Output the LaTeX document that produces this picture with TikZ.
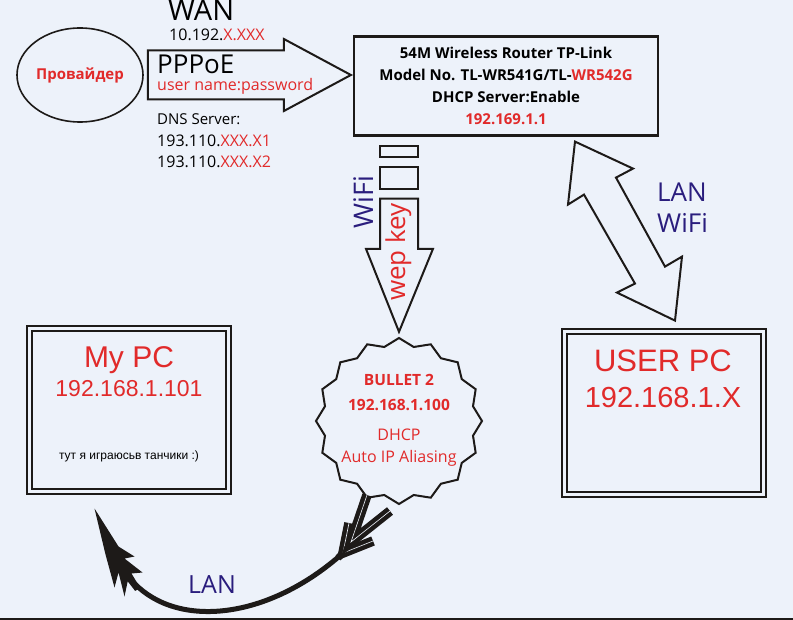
\documentclass[tikz,border=0pt]{standalone}
\usepackage{fontspec}
\setmainfont{Open Sans}
\newfontfamily\pcfont{Liberation Sans}
\usetikzlibrary{arrows.meta, positioning, calc, shapes.geometric}
\definecolor{paper}{HTML}{EDF2FA}
\definecolor{ink}{HTML}{1D1A18}
\definecolor{hot}{HTML}{E12A2A}
\definecolor{navy}{HTML}{2A1D7D}
\newcommand{\pxfont}[1]{\fontsize{#1}{#1}\selectfont}
\tikzset{
  pcbox/.style={draw=ink, line width=2, double=paper, double distance=3,
    minimum width=199, minimum height=163, inner sep=0},
  fatarrow/.style={draw=ink, line width=2, fill=paper, line join=miter},
  feather/.style={draw=ink, line width=4.5, double=paper, double distance=0.6, line join=miter},
  txt/.style={inner sep=0, anchor=base west},
  ctxt/.style={inner sep=0, anchor=base},
}

\begin{document}
\begin{tikzpicture}[x=1pt,y=-1pt]
\fill[paper] (0,0) rectangle (793,620);
\useasboundingbox (0,0) rectangle (793,620);
\draw[ink, line width=2] (0,618.5) -- (793,618.5);

% provider, router
\node[ellipse, draw=ink, line width=1.6, minimum width=126, minimum height=94, inner sep=0,
  text=hot, font=\bfseries\pxfont{15}] (prov) at (80,75) {Провайдер};
\node[draw=ink, line width=2.2, minimum width=304, minimum height=99, inner sep=0, align=center,
  font=\bfseries\fontsize{15}{22}\selectfont] (router) at (506,86)
  {54M Wireless Router TP-Link\\ Model No. TL-WR541G/TL-\textcolor{hot}{WR542G}\\
   DHCP Server:Enable\\ \textcolor{hot}{192.169.1.1}};

% WAN arrow
\coordinate (wan tail) at ($(prov.east)+(4,0)$);
\coordinate (wan tip) at ($(router.west |- prov.east)+(-2,0)$);
\draw[fatarrow] ($(wan tail)+(0,-24.5)$) -- ($(wan tip)+(-67,-24.5)$) -- ($(wan tip)+(-67,-36)$)
  -- (wan tip) -- ($(wan tip)+(-67,36)$) -- ($(wan tip)+(-67,24.5)$) -- ($(wan tail)+(0,24.5)$) -- cycle;
\node[txt, font=\pxfont{29}] (wan) at (168,21) {WAN};
\node[txt, font=\pxfont{16}] (wan ip) at (169,41) {10.192.\textcolor{hot}{X.XXX}};
\node[txt, font=\pxfont{26}] (pppoe) at (157,74) {PPPoE};
\node[txt, font=\pxfont{16}, text=hot] (login) at (157,91) {user name:password};
\node[txt, font=\pxfont{15}] (dns) at (157,125) {DNS Server:};
\node[txt, font=\pxfont{16}] (dns one) at (157,147) {193.110.\textcolor{hot}{XXX.X1}};
\node[txt, font=\pxfont{16}] (dns two) at (157,168) {193.110.\textcolor{hot}{XXX.X2}};

% bullet
\node[star, star points=16, star point ratio=1.1, draw=ink, line width=2, minimum size=166,
  inner sep=0] (bullet) at (399,421) {};
\node[ctxt, text=hot, font=\bfseries\pxfont{15.5}] (bullet name) at (399,385) {BULLET 2};
\node[ctxt, text=hot, font=\bfseries\pxfont{15.5}] (bullet ip) at (399,410) {192.168.1.100};
\node[ctxt, text=hot, font=\pxfont{16}] (bullet dhcp) at (399,440) {DHCP};
\node[ctxt, text=hot, font=\pxfont{16}] (bullet alias) at (399,462) {Auto IP Aliasing};

% wifi link
\coordinate (wifi top) at (bullet.north |- router.south);
\draw[ink, line width=2] ($(wifi top)+(-19,9)$) rectangle ($(wifi top)+(19,20)$);
\draw[ink, line width=2] ($(wifi top)+(-19,30)$) rectangle ($(wifi top)+(19,52)$);
\coordinate (wifi tip) at ($(bullet.north)+(0,-5)$);
\draw[fatarrow] ($(wifi top)+(-19,62)$) -- ($(wifi top)+(19,62)$) -- ($(wifi tip)+(19,-83)$)
  -- ($(wifi tip)+(34,-83)$) -- (wifi tip) -- ($(wifi tip)+(-33,-83)$) -- ($(wifi tip)+(-19,-83)$) -- cycle;
\node[ctxt, rotate=90, text=navy, font=\pxfont{27}] (wifi) at (373,202) {WiFi};
\node[ctxt, rotate=90, text=hot, font=\pxfont{26}] (wep) at (405,252) {wep key};

% computers
\node[pcbox] (mypc) at (129,410) {};
\node[ctxt, text=hot, font=\pcfont\pxfont{30}] (mypc name) at (129,368) {My PC};
\node[ctxt, text=hot, font=\pcfont\pxfont{23}] (mypc ip) at (129,397) {192.168.1.101};
\node[ctxt, font=\pcfont\pxfont{12}] (mypc note) at (129,459) {тут я играюсьв танчики :)};
\node[pcbox] (userpc) at (664,413) {};
\node[ctxt, text=hot, font=\pcfont\pxfont{31}] (userpc name) at (663,372) {USER PC};
\node[ctxt, text=hot, font=\pcfont\pxfont{29}] (userpc ip) at (663,407) {192.168.1.X};

% LAN / WiFi double arrow
\coordinate (lan a) at ($(router.south)+(69,5)$);
\draw[fatarrow, shift={(lan a)}] (0,0) -- (58,27) -- (41,36) -- (90,125) -- (107,115) -- (100,179)
  -- (42,151) -- (60,142) -- (9,53) -- (-7,63) -- cycle;
\node[txt, text=navy, font=\pxfont{26}] (lan label) at (657,202) {LAN};
\node[txt, text=navy, font=\pxfont{26}] (wifi label) at (657,233) {WiFi};

% LAN cable
\coordinate (lan tail) at ($(bullet.center)+(-56,132)$);
\coordinate (lan tip) at ($(mypc.south west)+(66,16)$);
\coordinate (lan head) at ($(lan tip)+(40,75)$);
\draw[ink, line width=5] (lan tail) .. controls +(-75,67) and +(44,45) .. (lan head);
\fill[ink, shift={(lan tip)}] (0,0) -- (24,38) -- (40,48) -- (30,50) -- (48,64)
  -- (37,65) -- (45.8,79.6) -- (40.6,82.4) -- (33.2,72.8) -- (30,88) -- (24,64)
  -- (20,79) -- (11,46) -- cycle;
\draw[ink, line width=7, shift={(lan tail)}] (1,-1) -- (-5,5);
\draw[feather, shift={(lan tail)}] (6,-30) -- (0,0) -- (30,-12);
\draw[feather, shift={(lan tail)}] (24,-58) -- (8,-11) -- (47,-42);
\node[txt, text=navy, font=\pxfont{25}] (lan cable) at (188,593) {LAN};
\end{tikzpicture}
\end{document}
